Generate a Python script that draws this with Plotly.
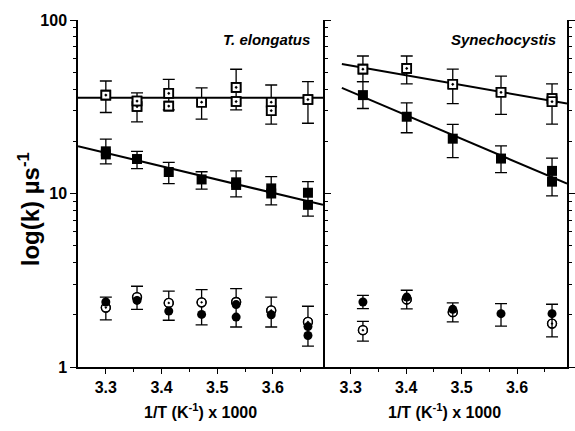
import plotly.graph_objects as go

# ---------------- data ----------------
# T. elongatus (left panel)
te_x = [3.300, 3.356, 3.413, 3.472, 3.534, 3.597, 3.663]

te_open_sq_y = [36.9, 31.7, 37.8, 33.6, 40.9, 33.6, 34.8]
te_open_sq_plus = [7.6, 6.3, 7.7, 7.0, 11.1, 8.6, 9.3]
te_open_sq_minus = [7.6, 5.8, 7.5, 6.8, 10.6, 8.5, 9.4]
te_open_sq_extra_x = [3.356, 3.413, 3.534, 3.597]
te_open_sq_extra_y = [34.1, 31.9, 33.9, 30.0]
te_open_fit_x = [3.25, 3.69]
te_open_fit_y = [35.6, 35.6]

te_fill_sq_y = [17.5, 15.8, 13.3, 12.05, 11.6, 10.7, 8.6]
te_fill_sq_plus = [3.1, 1.7, 1.8, 1.3, 1.9, 1.8, 3.1]
te_fill_sq_minus = [2.7, 1.9, 1.9, 1.45, 2.05, 2.1, 1.2]
te_fill_sq_extra_x = [3.300, 3.534, 3.597, 3.663]
te_fill_sq_extra_y = [16.8, 11.2, 10.0, 10.1]
te_fill_fit_x = [3.25, 3.69]
te_fill_fit_y = [18.7, 8.6]

te_open_ci_y = [2.20, 2.53, 2.34, 2.36, 2.37, 2.12, 1.82]
te_open_ci_plus = [0.33, 0.39, 0.40, 0.43, 0.46, 0.41, 0.42]
te_open_ci_minus = [0.33, 0.38, 0.48, 0.61, 0.67, 0.42, 0.50]
te_fill_ci_y = [2.37, 2.42, 2.10, 2.01, 2.29, 2.00, 1.71]
te_fill_ci_extra_x = [3.534, 3.663]
te_fill_ci_extra_y = [1.94, 1.52]

# Synechocystis (right panel)
sy_x = [3.322, 3.401, 3.484, 3.571, 3.663]

sy_open_sq_y = [52.1, 52.6, 42.6, 38.3, 35.3]
sy_open_sq_plus = [9.9, 9.4, 9.5, 9.2, 7.5]
sy_open_sq_minus = [8.0, 9.8, 9.6, 9.7, 10.2]
sy_open_sq_extra_x = [3.663]
sy_open_sq_extra_y = [33.8]
sy_open_fit_x = [3.284, 3.69]
sy_open_fit_y = [55.7, 33.0]

sy_fill_sq_y = [36.9, 27.7, 20.7, 15.9, 11.7]
sy_fill_sq_plus = [7.2, 5.6, 4.3, 2.9, 4.3]
sy_fill_sq_minus = [6.0, 5.3, 4.6, 2.7, 2.0]
sy_fill_sq_extra_x = [3.663]
sy_fill_sq_extra_y = [13.5]
sy_fill_fit_x = [3.284, 3.69]
sy_fill_fit_y = [40.6, 11.4]

sy_fill_ci_y = [2.37, 2.53, 2.15, 2.03, 2.03]
sy_fill_ci_plus = [0.22, 0.24, 0.19, 0.29, 0.27]
sy_fill_ci_minus = [0.20, 0.37, 0.33, 0.31, 0.54]
sy_open_ci_x = [3.322]
sy_open_ci_y = [1.63]
sy_open_ci_plus = [0.20]
sy_open_ci_minus = [0.22]
sy_open_ci_extra_x = [3.401, 3.484, 3.663]
sy_open_ci_extra_y = [2.45, 2.07, 1.78]

x_ticks = [3.3, 3.4, 3.5, 3.6]
x_ticktext = ["3.3", "3.4", "3.5", "3.6"]
y_ticks = [1, 10, 100]
y_ticktext = ["1", "10", "100"]
panel_labels = ["T. elongatus", "Synechocystis"]
x_title = "1/T (K<sup>-1</sup>) x 1000"
y_title = "log(k) µs<sup>-1</sup>"

# ---------------- figure ----------------
FONT = "Liberation Sans, Arial, sans-serif"
fig = go.Figure()


def err(plus, minus):
    if plus is None:
        return None
    return dict(type="data", symmetric=False, array=plus, arrayminus=minus,
                color="black", thickness=1.3, width=6)


def fit(x, y, xa, ya):
    fig.add_trace(go.Scatter(x=x, y=y, mode="lines", xaxis=xa, yaxis=ya,
                             line=dict(color="black", width=2), showlegend=False,
                             hoverinfo="skip"))


def pts(x, y, xa, ya, kind, size, plus=None, minus=None):
    e = err(plus, minus)
    if kind == "open_sq":
        fig.add_trace(go.Scatter(x=x, y=y, mode="markers", xaxis=xa, yaxis=ya,
                                 error_y=e,
                                 marker=dict(symbol="square", size=size, color="white",
                                             line=dict(color="black", width=1.6)),
                                 showlegend=False))
        fig.add_trace(go.Scatter(x=x, y=y, mode="markers", xaxis=xa, yaxis=ya,
                                 marker=dict(symbol="square-open-dot", size=size, color="black",
                                             line=dict(color="black", width=1.6)),
                                 showlegend=False))
    elif kind == "open_ci":
        fig.add_trace(go.Scatter(x=x, y=y, mode="markers", xaxis=xa, yaxis=ya,
                                 error_y=e,
                                 marker=dict(symbol="circle", size=size, color="white",
                                             line=dict(color="black", width=1.3)),
                                 showlegend=False))
        fig.add_trace(go.Scatter(x=x, y=y, mode="markers", xaxis=xa, yaxis=ya,
                                 marker=dict(symbol="circle-open-dot", size=size, color="black",
                                             line=dict(color="black", width=1.3)),
                                 showlegend=False))
    else:
        sym = "square" if kind == "fill_sq" else "circle"
        fig.add_trace(go.Scatter(x=x, y=y, mode="markers", xaxis=xa, yaxis=ya,
                                 error_y=e,
                                 marker=dict(symbol=sym, size=size, color="black",
                                             line=dict(color="black", width=0)),
                                 showlegend=False))


# left panel
fit(te_open_fit_x, te_open_fit_y, "x", "y")
fit(te_fill_fit_x, te_fill_fit_y, "x", "y")
pts(te_x, te_open_sq_y, "x", "y", "open_sq", 9, te_open_sq_plus, te_open_sq_minus)
pts(te_open_sq_extra_x, te_open_sq_extra_y, "x", "y", "open_sq", 9)
pts(te_x, te_fill_sq_y, "x", "y", "fill_sq", 10, te_fill_sq_plus, te_fill_sq_minus)
pts(te_fill_sq_extra_x, te_fill_sq_extra_y, "x", "y", "fill_sq", 10)
pts(te_x, te_open_ci_y, "x", "y", "open_ci", 9, te_open_ci_plus, te_open_ci_minus)
pts(te_x, te_fill_ci_y, "x", "y", "fill_ci", 9)
pts(te_fill_ci_extra_x, te_fill_ci_extra_y, "x", "y", "fill_ci", 9)

# right panel
fit(sy_open_fit_x, sy_open_fit_y, "x2", "y2")
fit(sy_fill_fit_x, sy_fill_fit_y, "x2", "y2")
pts(sy_x, sy_open_sq_y, "x2", "y2", "open_sq", 9, sy_open_sq_plus, sy_open_sq_minus)
pts(sy_open_sq_extra_x, sy_open_sq_extra_y, "x2", "y2", "open_sq", 9)
pts(sy_x, sy_fill_sq_y, "x2", "y2", "fill_sq", 10, sy_fill_sq_plus, sy_fill_sq_minus)
pts(sy_fill_sq_extra_x, sy_fill_sq_extra_y, "x2", "y2", "fill_sq", 10)
pts(sy_open_ci_x, sy_open_ci_y, "x2", "y2", "open_ci", 9, sy_open_ci_plus, sy_open_ci_minus)
pts(sy_open_ci_extra_x, sy_open_ci_extra_y, "x2", "y2", "open_ci", 9)
pts(sy_x, sy_fill_ci_y, "x2", "y2", "fill_ci", 9, sy_fill_ci_plus, sy_fill_ci_minus)

XR = [3.25, 3.69]
tickfont = dict(family=FONT, size=16, color="black", weight="bold")
minor_x = [3.35, 3.45, 3.55, 3.65]
all_x = [3.25, 3.3, 3.35, 3.4, 3.45, 3.5, 3.55, 3.6, 3.65]
minor_y = [2, 3, 4, 5, 6, 7, 8, 9, 20, 30, 40, 50, 60, 70, 80, 90]


def xaxis(domain, anchor):
    return dict(domain=domain, anchor=anchor, range=XR, tickvals=x_ticks, ticktext=x_ticktext,
                ticks="outside", ticklen=5, tickwidth=1.2, tickcolor="black",
                minor=dict(tickvals=minor_x, ticks="outside", ticklen=3, tickwidth=1.2,
                           tickcolor="black"),
                showline=True, linewidth=1.5, linecolor="black", mirror=False,
                showgrid=False, zeroline=False, tickfont=tickfont)


def topaxis(over, anchor):
    return dict(overlaying=over, anchor=anchor, side="top", range=XR, tickvals=all_x,
                ticks="inside", ticklen=5, tickwidth=1.2, tickcolor="black",
                showticklabels=False, showline=True, linewidth=1.5, linecolor="black",
                showgrid=False, zeroline=False)


fig.update_layout(
    width=575, height=431,
    margin=dict(l=78, r=2, t=20, b=64),
    paper_bgcolor="white", plot_bgcolor="white",
    font=dict(family=FONT, color="black"),
    xaxis=xaxis([0, 0.501], "y"),
    xaxis2=xaxis([0.501, 1], "y2"),
    xaxis3=topaxis("x", "y"),
    xaxis4=topaxis("x2", "y2"),
    yaxis=dict(type="log", range=[0, 2], domain=[0, 1], anchor="x",
               tickvals=y_ticks, ticktext=y_ticktext, ticks="outside", ticklen=6,
               tickwidth=1.2, tickcolor="black",
               minor=dict(tickvals=minor_y, ticks="outside", ticklen=3, tickwidth=1,
                          tickcolor="black"),
               showline=True, linewidth=1.5, linecolor="black", mirror="ticks",
               showgrid=False, zeroline=False, tickfont=tickfont),
    yaxis2=dict(type="log", range=[0, 2], domain=[0, 1], anchor="x2", side="right",
                tickvals=y_ticks, ticks="outside", ticklen=6, tickwidth=1.2,
                tickcolor="black", showticklabels=False,
                minor=dict(tickvals=minor_y, ticks="outside", ticklen=3, tickwidth=1,
                           tickcolor="black"),
                showline=True, linewidth=1.5, linecolor="black", mirror=False,
                showgrid=False, zeroline=False),
    showlegend=False,
)

ann_font = dict(family=FONT, size=15, color="black", weight="bold", style="italic")
fig.add_annotation(text=panel_labels[0], xref="x domain", yref="y domain", x=0.955, y=0.945,
                   xanchor="right", yanchor="middle", showarrow=False, font=ann_font)
fig.add_annotation(text=panel_labels[1], xref="x2 domain", yref="y2 domain", x=0.965, y=0.945,
                   xanchor="right", yanchor="middle", showarrow=False, font=ann_font)

title_font = dict(family=FONT, size=16, color="black", weight="bold")
fig.add_annotation(text=x_title, xref="x domain", yref="paper", x=0.5, y=-0.127,
                   xanchor="center", yanchor="middle", showarrow=False, font=title_font)
fig.add_annotation(text=x_title, xref="x2 domain", yref="paper", x=0.5, y=-0.127,
                   xanchor="center", yanchor="middle", showarrow=False, font=title_font)
fig.add_annotation(text=y_title, xref="paper", yref="paper", x=-0.1, y=0.455,
                   xanchor="center", yanchor="middle", textangle=-90, showarrow=False,
                   font=dict(family=FONT, size=24, color="black", weight="bold"))

fig.write_html("out.html", config={"displayModeBar": False},
               post_script="document.body.style.margin='0';document.body.style.overflow='hidden';")
